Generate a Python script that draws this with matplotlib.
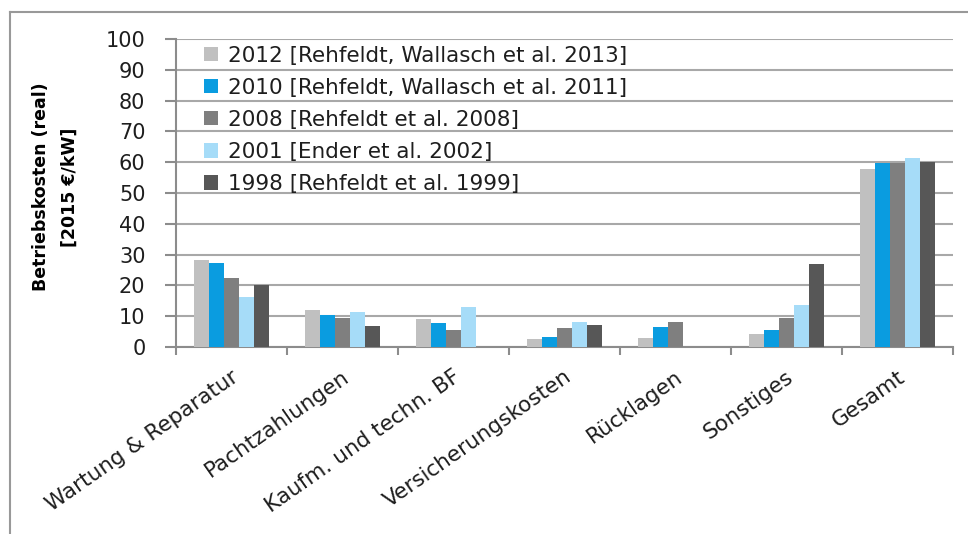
import matplotlib.pyplot as plt
import numpy as np
import matplotlib.transforms as mtransforms
from matplotlib.lines import Line2D

# Daten
kategorien = ["Wartung & Reparatur", "Pachtzahlungen", "Kaufm. und techn. BF",
              "Versicherungskosten", "Rücklagen", "Sonstiges", "Gesamt"]
serien = ["2012 [Rehfeldt, Wallasch et al. 2013]",
          "2010 [Rehfeldt, Wallasch et al. 2011]",
          "2008 [Rehfeldt et al. 2008]",
          "2001 [Ender et al. 2002]",
          "1998 [Rehfeldt et al. 1999]"]
w2012 = [28.2, 12.0, 9.0, 2.5, 2.9, 4.2, 57.8]
w2010 = [27.4, 10.4, 7.7, 3.1, 6.6, 5.5, 59.6]
w2008 = [22.3, 9.3, 5.5, 6.2, 8.1, 9.3, 59.6]
w2001 = [16.1, 11.4, 13.1, 8.2, 0, 13.6, 61.5]
w1998 = [20.1, 6.8, 0, 7.1, 0, 26.9, 60.0]
farben = ["#c0c0c0", "#0a9ce0", "#7f7f7f", "#a6dcf8", "#575757"]

werte = [w2012, w2010, w2008, w2001, w1998]

fig = plt.figure(figsize=(9.68, 5.34), dpi=100)
ax = fig.add_axes([176/968, 1-347/534, (953-176)/968, (347-39)/534])

x = np.arange(len(kategorien))
b = 0.135
for i, (vals, lab, col) in enumerate(zip(werte, serien, farben)):
    ax.bar(x + (i-2)*b, vals, width=b, color=col, label=lab, zorder=3)

ax.set_xlim(-0.5, len(kategorien)-0.5)
ax.set_ylim(0, 100)
ax.set_yticks(range(0, 101, 10))
ax.yaxis.grid(True, color="#a8a8a8", linewidth=1.5, zorder=0)
ax.set_axisbelow(True)

for s in ["top", "right"]:
    ax.spines[s].set_visible(False)
ax.spines["left"].set_color("#8c8c8c")
ax.spines["bottom"].set_color("#8c8c8c")
ax.spines["left"].set_linewidth(1.5)
ax.spines["bottom"].set_linewidth(1.5)

# Trennstriche zwischen den Kategorien
ax.set_xticks(np.arange(-0.5, len(kategorien), 1))
ax.set_xticklabels([])
ax.tick_params(axis="x", length=6, width=1.5, color="#8c8c8c")
ax.set_xticks(x, minor=True)
ax.set_xticklabels(kategorien, minor=True, rotation=35, ha="right", va="center",
                   rotation_mode="anchor", fontsize=15.5, color="#1e1e1e")
ax.tick_params(axis="x", which="minor", length=0, pad=20)
verschiebung = mtransforms.ScaledTranslation(5/100, 0, fig.dpi_scale_trans)
for t in ax.get_xticklabels(minor=True):
    t.set_transform(t.get_transform() + verschiebung)
ax.tick_params(axis="y", length=8, width=1.5, color="#8c8c8c",
               labelsize=15, labelcolor="#1e1e1e", pad=14)

ax.set_ylabel("Betriebskosten (real)\n[2015 €/kW]", fontsize=12.5,
              fontweight="bold", linespacing=1.75)
ax.yaxis.set_label_coords(-0.125, 0.52)

leg = ax.legend(loc="upper left", bbox_to_anchor=(0.02, 1.02), frameon=False,
                fontsize=15.5, handlelength=0.65, handleheight=0.65,
                handletextpad=0.45, labelspacing=0.56, labelcolor="#1e1e1e",
                borderaxespad=0.2)

# Rahmen um die Grafik
fig.add_artist(Line2D([10/968, 10/968], [0, 1-12/534], color="#999999", lw=1.5))
fig.add_artist(Line2D([10/968, 1], [1-12/534, 1-12/534], color="#999999", lw=1.5))

plt.savefig("out.png", dpi=100)
